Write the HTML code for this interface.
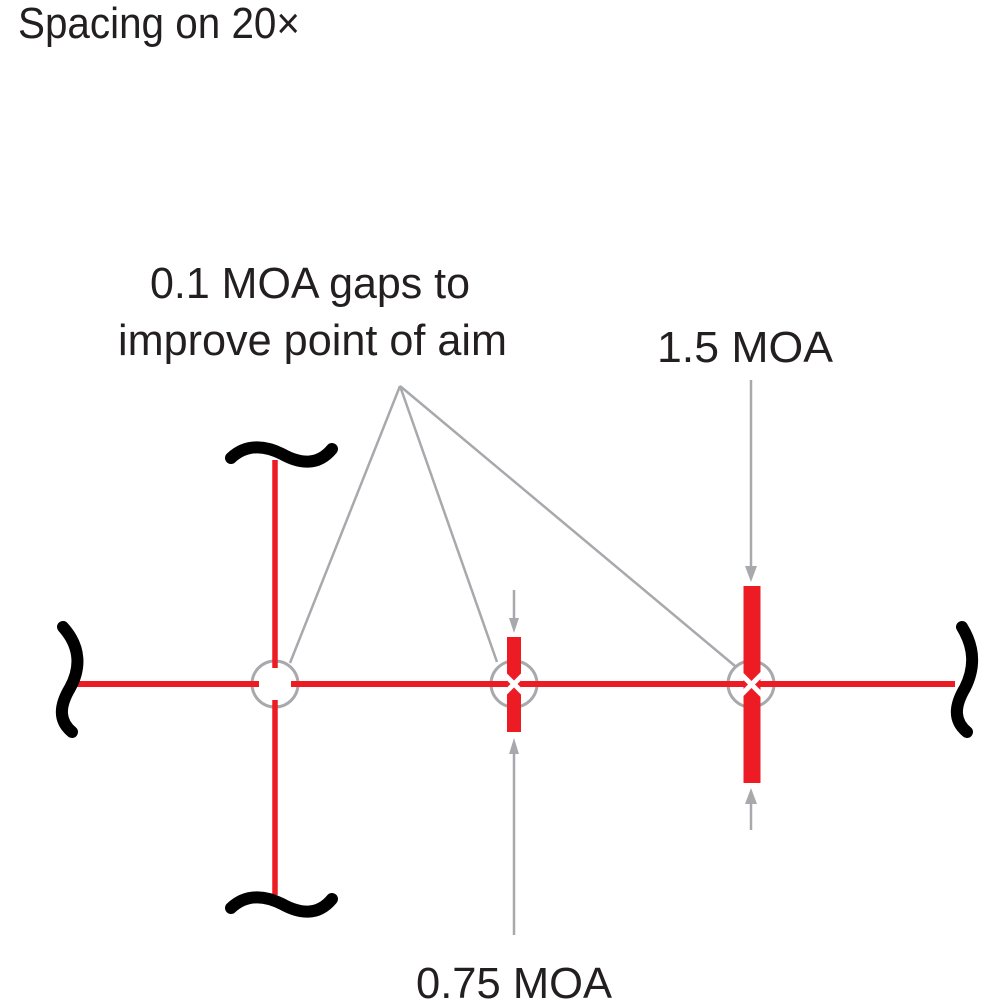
<!DOCTYPE html>
<html><head><meta charset="utf-8"><style>html,body{margin:0;padding:0;background:#fff}svg{display:block}</style></head>
<body>
<svg width="1000" height="1000" viewBox="0 0 1000 1000" xmlns="http://www.w3.org/2000/svg">
<g font-family="Liberation Sans, sans-serif" font-size="44" fill="#231f20">
<text x="18" y="38" textLength="282" lengthAdjust="spacingAndGlyphs">Spacing on 20×</text>
<text x="150" y="298" textLength="320" lengthAdjust="spacingAndGlyphs">0.1 MOA gaps to</text>
<text x="118" y="355" textLength="389" lengthAdjust="spacingAndGlyphs">improve point of aim</text>
<text x="657" y="362" textLength="176" lengthAdjust="spacingAndGlyphs">1.5 MOA</text>
<text x="416" y="998" textLength="196" lengthAdjust="spacingAndGlyphs">0.75 MOA</text>
</g>
<g stroke="#a7a9ac" stroke-width="2.5" fill="none">
<line x1="400" y1="386" x2="290" y2="663"/>
<line x1="400" y1="386" x2="497" y2="662"/>
<line x1="400" y1="386" x2="735" y2="666"/>
<line x1="751" y1="380" x2="751" y2="570"/>
<line x1="751" y1="830" x2="751" y2="800"/>
<line x1="514" y1="590" x2="514" y2="620"/>
<line x1="514" y1="935" x2="514" y2="752"/>
</g>
<g stroke="#a7a9ac" stroke-width="3" fill="none">
<circle cx="275" cy="684" r="23"/>
<circle cx="514" cy="684" r="23"/>
<circle cx="751" cy="684" r="23"/>
</g>
<g fill="#a7a9ac">
<polygon points="745,566 757,566 751,582"/>
<polygon points="745,804 757,804 751,788"/>
<polygon points="509,618 519,618 514,633"/>
<polygon points="509,754 519,754 514,738"/>
</g>
<g stroke="#ed1c24" fill="none">
<line x1="75" y1="684" x2="259" y2="684" stroke-width="6"/>
<line x1="291" y1="684" x2="955" y2="684" stroke-width="6"/>
<line x1="275" y1="460" x2="275" y2="668" stroke-width="5.5"/>
<line x1="275" y1="700" x2="275" y2="895" stroke-width="5.5"/>
<line x1="514" y1="637" x2="514" y2="732" stroke-width="14"/>
<line x1="752" y1="586" x2="752" y2="783" stroke-width="17"/>
</g>
<g stroke="#fff" stroke-width="5">
<line x1="504" y1="674" x2="524" y2="694"/>
<line x1="524" y1="674" x2="504" y2="694"/>
<line x1="739" y1="672" x2="764" y2="697"/>
<line x1="764" y1="672" x2="739" y2="697"/>
</g>
<g stroke="#000" stroke-width="12" stroke-linecap="round" fill="none">
<path d="M63,627 C82,648 80,670 70,688 C58,708 60,722 72,732"/>
<path d="M962,627 C975,648 975,668 965,688 C953,708 955,722 967,732"/>
<path d="M231,458 C248,442 268,447 282,454 C300,464 318,466 332,449"/>
<path d="M231,908 C248,892 268,897 282,904 C300,914 318,916 332,899"/>
</g>
</svg>
</body></html>
